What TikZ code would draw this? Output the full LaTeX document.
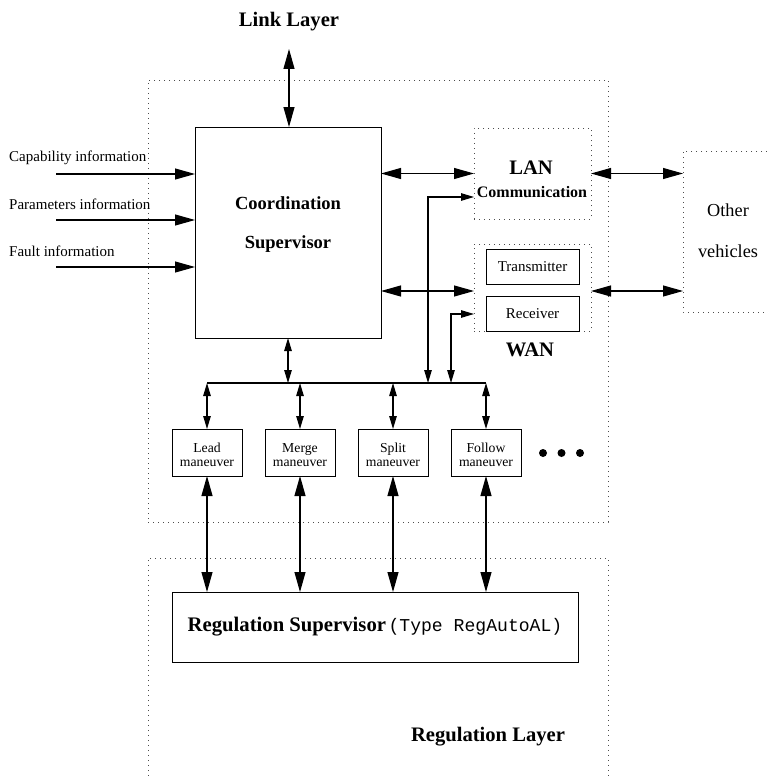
\documentclass[tikz,border=0pt]{standalone}
\usepackage{fontspec}
\setmainfont{Liberation Serif}
\setmonofont{Liberation Mono}
\usetikzlibrary{arrows.meta}
\begin{document}
\begin{tikzpicture}[x=1pt,y=-1pt,
  box/.style={draw, line width=0.9pt, inner sep=0pt, outer sep=0pt, rectangle},
  region/.style={draw=black!70, line width=0.9pt, dash pattern=on 0.9pt off 4.1pt, inner sep=0pt, outer sep=0pt, rectangle},
  dotline/.style={draw=black!70, line width=0.9pt, dash pattern=on 0.9pt off 4.1pt},
  hidden/.style={inner sep=0pt, outer sep=0pt, rectangle},
  flow/.style={line width=1.1pt},
  bigtip/.tip={Triangle[length=20pt,width=11pt]},
  smalltip/.tip={Triangle[length=13pt,width=7.5pt]},
  head/.style={inner sep=0pt, font=\fontsize{20.6}{24}\selectfont\bfseries},
  info/.style={inner sep=0pt, anchor=west, font=\fontsize{15}{18}\selectfont},
  maneuver/.style={box, minimum width=70pt, minimum height=47pt},
  mtext/.style={inner sep=0pt, align=center, font=\fontsize{13.7}{13.8}\selectfont},
  unit/.style={box, minimum width=93pt, minimum height=35pt, font=\fontsize{15}{18}\selectfont},
  blob/.style={circle, fill, inner sep=0pt, minimum size=8pt}
]
\useasboundingbox (0,0) rectangle (767,776);

% coordination layer frame
\node[region, minimum width=460pt, minimum height=442pt] (coordl) at (378,301) {};

% link layer
\node[head] (link) at (289,22) {Link Layer};
\coordinate (linkend) at (289,49);

% coordination supervisor
\node[box, minimum width=186pt, minimum height=211pt] (cs) at (288,232.5) {};
\node[inner sep=0pt, font=\fontsize{18.5}{22}\selectfont\bfseries] (cst1) at (288,203) {Coordination};
\node[inner sep=0pt, font=\fontsize{18.5}{22}\selectfont\bfseries] (cst2) at (288,244) {Supervisor};
\draw[flow, bigtip-bigtip] (linkend) -- (linkend |- cs.north);

% external information inputs
\node[info] (capl) at (9,158) {Capability information};
\node[info] (parl) at (9,204) {Parameters information};
\node[info] (faul) at (9,251) {Fault information};
\coordinate (cap) at (56,174);
\coordinate (par) at (56,220);
\coordinate (fau) at (56,267);
\draw[flow, -bigtip] (cap) -- (cap -| cs.west);
\draw[flow, -bigtip] (par) -- (par -| cs.west);
\draw[flow, -bigtip] (fau) -- (fau -| cs.west);

% LAN
\node[region, minimum width=117pt, minimum height=91pt] (lan) at (532.5,173.5) {};
\node[head] (lant) at (531,168) {LAN};
\node[inner sep=0pt, font=\fontsize{16}{19}\selectfont\bfseries] (lanc) at (532,192) {Communication};

% WAN
\node[region, minimum width=117pt, minimum height=87pt] (wan) at (532.5,287.5) {};
\node[unit] (tx) at (532.5,266.5) {Transmitter};
\node[unit] (rx) at (532.5,313.5) {Receiver};
\node[head] (want) at (530,350) {WAN};

% other vehicles
\node[hidden, minimum width=84pt, minimum height=161pt] (ov) at (725,231.5) {};
\draw[dotline] (ov.north east) -- (ov.north west) -- (ov.south west) -- (ov.south east);
\node[inner sep=0pt, font=\fontsize{18.3}{22}\selectfont] (ovt1) at (728,210) {Other};
\node[inner sep=0pt, font=\fontsize{18.3}{22}\selectfont] (ovt2) at (728,251) {vehicles};

% communication links
\coordinate (wanport) at (474,291);
\draw[flow, bigtip-bigtip] (cs.east |- lan.west) -- (lan.west);
\draw[flow, bigtip-bigtip] (lan.east) -- (lan.east -| ov.west);
\draw[flow, bigtip-bigtip] (cs.east |- wanport) -- (wanport);
\draw[flow, bigtip-bigtip] (wanport -| wan.east) -- (wanport -| ov.west);

% maneuver bus
\coordinate (busL) at (207,383);
\coordinate (busR) at (486,383);
\draw[flow] (busL) -- (busR);
\draw[flow, smalltip-smalltip] (cs.south) -- (cs.south |- busL);

\coordinate (lanin) at (474,197);
\coordinate (lanbus) at (428,383);
\draw[flow, smalltip-smalltip] (lanbus) |- (lanin);
\coordinate (rxin) at (474,314);
\coordinate (rxbus) at (451,383);
\draw[flow, smalltip-smalltip] (rxbus) |- (rxin);

% maneuvers
\node[maneuver] (lead) at (207,452.5) {};
\node[maneuver] (merge) at (300,452.5) {};
\node[maneuver] (split) at (393,452.5) {};
\node[maneuver] (follow) at (486,452.5) {};
\node[mtext] (leadt) at (207,455) {Lead\\maneuver};
\node[mtext] (merget) at (300,455) {Merge\\maneuver};
\node[mtext] (splitt) at (393,455) {Split\\maneuver};
\node[mtext] (followt) at (486,455) {Follow\\maneuver};
\node[blob] (dot1) at (543,453) {};
\node[blob] (dot2) at (561.5,453) {};
\node[blob] (dot3) at (580,453) {};

\foreach \m in {lead,merge,split,follow}{
  \draw[flow, smalltip-smalltip] (\m.north |- busL) -- (\m.north);
}

% regulation layer
\node[hidden, minimum width=460pt, minimum height=218pt] (regl) at (378,667) {};
\draw[dotline] (regl.south west) -- (regl.north west) -- (regl.north east) -- (regl.south east);
\node[box, minimum width=406pt, minimum height=70pt] (reg) at (375,627)
  {{\fontsize{20.7}{24}\selectfont\bfseries Regulation Supervisor} {\fontsize{18.1}{22}\selectfont\ttfamily(Type RegAutoAL)}};
\node[head] (reglt) at (488,737) {Regulation Layer};

\foreach \m in {lead,merge,split,follow}{
  \draw[flow, bigtip-bigtip] (\m.south) -- (\m.south |- reg.north);
}
\end{tikzpicture}
\end{document}
